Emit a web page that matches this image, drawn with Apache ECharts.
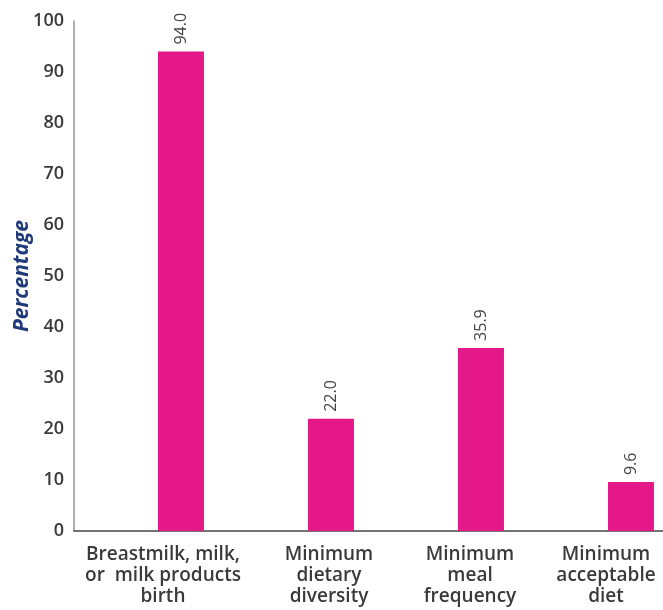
<!DOCTYPE html>
<html>
<head>
<meta charset="utf-8">
<script src="https://cdn.jsdelivr.net/npm/echarts@6/dist/echarts.min.js"></script>
<style>
  html, body { margin: 0; padding: 0; background: #fff; }
  #chart { width: 663px; height: 610px; }
</style>
</head>
<body>
<div id="chart"></div>
<script>
// Infant and young child feeding indicators (percentage)
const categories = [
  'Breastmilk, milk,\nor  milk products\nbirth',
  'Minimum\ndietary\ndiversity',
  'Minimum\nmeal\nfrequency',
  'Minimum\nacceptable\ndiet'
];
const percentages = [94.0, 22.0, 35.9, 9.6];
const spacerValues = ['-', '-', '-', '-'];

// horizontal nudge (px) of each category caption to the right of its slot centre
const captionShift = [14, 30, 21, 7];

const FONT = '"Open Sans", "Noto Sans", sans-serif';
const chart = echarts.init(document.getElementById('chart'));

const categoryItems = categories.map((name, i) => ({
  value: name,
  textStyle: { padding: [0, 0, 0, captionShift[i] * 2] }
}));

chart.setOption({
  animation: false,
  grid: {
    left: 74, top: 21, width: 600, bottom: 79,
    outerBoundsMode: 'none',
    containLabel: false
  },
  xAxis: {
    type: 'category',
    data: categoryItems,
    axisLine: { lineStyle: { color: '#444', width: 1.5 } },
    axisTick: { show: false },
    axisLabel: {
      interval: 0,
      margin: 13,
      color: '#3a3a3a',
      fontFamily: FONT,
      fontWeight: 600,
      fontSize: 19,
      lineHeight: 21
    }
  },
  yAxis: {
    type: 'value',
    min: 0,
    max: 100,
    interval: 10,
    name: 'Percentage',
    nameLocation: 'middle',
    nameGap: 41,
    nameMoveOverlap: false,
    nameTextStyle: {
      color: '#1f3a7a',
      fontFamily: FONT,
      fontWeight: 'bold',
      fontStyle: 'italic',
      fontSize: 21
    },
    axisLine: { show: true, lineStyle: { color: '#999', width: 1.5 } },
    axisTick: { show: false },
    splitLine: { show: false },
    axisLabel: {
      margin: 10,
      color: '#3a3a3a',
      fontFamily: FONT,
      fontWeight: 600,
      fontSize: 18
    }
  },
  series: [
    {
      type: 'bar',
      data: spacerValues,
      barWidth: 46,
      barGap: '39%',
      silent: true
    },
    {
      type: 'bar',
      data: percentages,
      barWidth: 46,
      itemStyle: { color: '#E5188A' },
      label: {
        show: true,
        position: 'top',
        rotate: 90,
        align: 'left',
        verticalAlign: 'middle',
        distance: 7,
        color: '#444',
        fontFamily: FONT,
        fontSize: 16,
        formatter: p => p.value.toFixed(1)
      }
    }
  ]
});
</script>
</body>
</html>
